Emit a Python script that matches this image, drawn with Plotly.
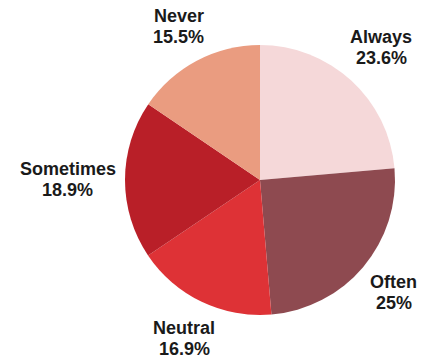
import math
import plotly.graph_objects as go

categories = ["Always", "Often", "Neutral", "Sometimes", "Never"]
values = [23.6, 25, 16.9, 18.9, 15.5]
pct_labels = ["23.6%", "25%", "16.9%", "18.9%", "15.5%"]
colors = ["#F5D8D9", "#8E4A50", "#DE3236", "#B91F28", "#EA9C80"]

FONT = "Liberation Sans, Arial, sans-serif"
FS = 18
TXT = "#1a1a1a"

# Arial/Liberation Sans Bold advance widths (per 1000 em) for width estimates
W = {"A": 722, "l": 278, "w": 778, "a": 556, "y": 556, "s": 556, "O": 778, "f": 333,
     "t": 333, "e": 556, "n": 611, "N": 722, "u": 611, "r": 389, "S": 667, "o": 611,
     "m": 889, "i": 278, "v": 556, ".": 278, "%": 889}


def text_w(s):
    return sum(W.get(c, 556) for c in s) * FS / 1000.0


fig = go.Figure(go.Pie(
    labels=categories,
    values=values,
    sort=False,
    direction="clockwise",
    rotation=0,
    marker=dict(colors=colors, line=dict(width=0)),
    textinfo="none",
    showlegend=False,
    hoverinfo="label+percent",
))

ML, MR, MT, MB = 117, 43, 37, 56
FW, FH = 430, 363
pw = FW - ML - MR  # plot area px width
ph = FH - MT - MB
R = min(pw, ph) / 2.0
GAP = 9
LINE_SP = 21
BOX_H = LINE_SP + 19

total = sum(values)
cum = 0.0
annotations = []
for cat, v, pl in zip(categories, values, pct_labels):
    mid = (cum + v / 2.0) / total * 2 * math.pi
    cum += v
    sx, cy = math.sin(mid), math.cos(mid)
    w = max(text_w(cat), text_w(pl))
    support = w / 2 * abs(sx) + BOX_H / 2 * abs(cy)
    d = R + GAP + support
    px = pw / 2 + d * sx
    py = ph / 2 + d * cy  # upward
    xp, yp = px / pw, py / ph
    for txt, shift in ((cat, LINE_SP / 2), (pl, -LINE_SP / 2)):
        annotations.append(dict(
            x=xp, y=yp, xref="paper", yref="paper",
            text=f"<b>{txt}</b>", showarrow=False,
            xanchor="center", yanchor="middle", yshift=shift,
            font=dict(family=FONT, size=FS, color=TXT),
        ))

fig.update_layout(
    width=FW, height=FH,
    margin=dict(l=ML, r=MR, t=MT, b=MB),
    paper_bgcolor="white",
    plot_bgcolor="white",
    annotations=annotations,
)

fig.write_html("out.html")
